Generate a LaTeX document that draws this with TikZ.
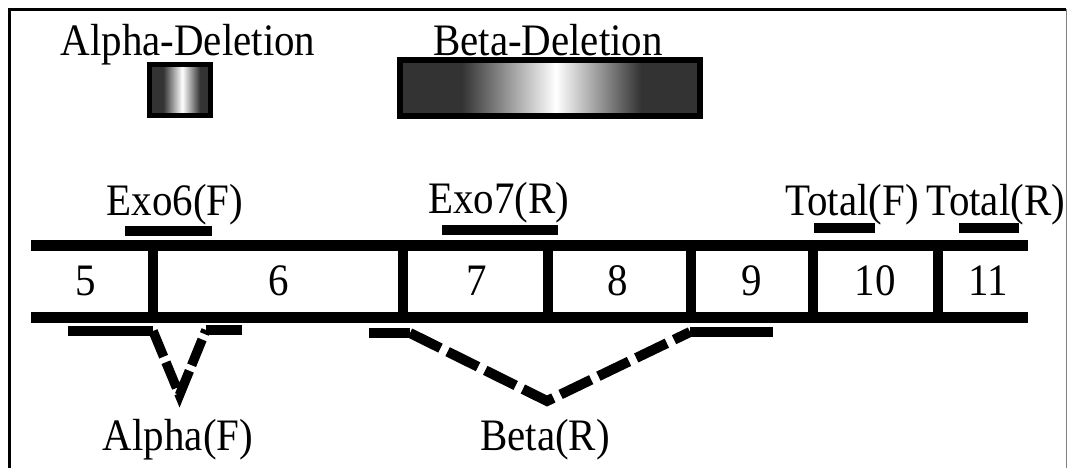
\documentclass[tikz,border=0pt]{standalone}
\usepackage{graphicx}
\usepackage{fontspec}
\setmainfont{Liberation Serif}
\definecolor{dg}{gray}{0.2}
\newcommand{\narrowtxt}[1]{\scalebox{0.91}[1]{#1}}
\pgfdeclarehorizontalshading{alphashade}{100bp}{color(0bp)=(dg); color(35bp)=(dg); color(52bp)=(white); color(68bp)=(dg); color(100bp)=(dg)}
\pgfdeclarehorizontalshading{betashade}{100bp}{color(0bp)=(dg); color(35bp)=(dg); color(51bp)=(white); color(65.5bp)=(dg); color(100bp)=(dg)}
\tikzset{
  lbl/.style={anchor=base, inner sep=0pt, font=\fontsize{45}{50}\selectfont},
  rail/.style={line width=11pt},
  wall/.style={line width=10pt},
  primer/.style={line width=10pt},
  alphadash/.style={line width=9.5pt, dash pattern=on 27.8pt off 6pt, miter limit=10},
  betadash/.style={line width=10pt, dash pattern=on 34pt off 8pt, miter limit=10},
}
\begin{document}
\begin{tikzpicture}[x=1pt,y=-1pt]
\useasboundingbox (0,0) rectangle (1068,468);
% frame
\draw[line width=3pt] (9.5,468) -- (9.5,9.5) -- (1066,9.5);
\draw[gray, line width=1.5pt] (1066.5,9.5) -- (1066.5,468);
% deletion boxes
\node[lbl] (adel) at (188,56) {\narrowtxt{Alpha-Deletion}};
\node[lbl] (bdel) at (548,56) {\narrowtxt{Beta-Deletion}};
\shade[shading=alphashade] (152,67) rectangle (208,113);
\draw[line width=5pt] (149.5,64.5) rectangle (210.5,115.5);
\shade[shading=betashade] (403,63) rectangle (697,113);
\draw[line width=6pt] (400,60) rectangle (700,116);
% gene rails
\draw[rail] (31,245.5) -- (1028,245.5);
\draw[rail] (31,317.5) -- (1028,317.5);
\foreach \x in {153,403,548,691,813,938}
  \draw[wall] (\x,245.5) -- (\x,317.5);
% exon numbers
\node[lbl] (e5) at (86,295) {\narrowtxt{5}};
\node[lbl] (e6) at (279,295) {\narrowtxt{6}};
\node[lbl] (e7) at (477,295) {\narrowtxt{7}};
\node[lbl] (e8) at (618,295) {\narrowtxt{8}};
\node[lbl] (e9) at (752,295) {\narrowtxt{9}};
\node[lbl] (e10) at (875,295) {\narrowtxt{10}};
\node[lbl] (e11) at (988,295) {\narrowtxt{11}};
% top primers
\node[lbl] (p6) at (175,215) {\narrowtxt{Exo6(F)}};
\node[lbl] (p7) at (499,213) {\narrowtxt{Exo7(R)}};
\node[lbl] (tf) at (852,215) {\narrowtxt{Total(F)}};
\node[lbl] (tr) at (996,215) {\narrowtxt{Total(R)}};
\draw[primer] (125,231) -- (212,231);
\draw[primer] (442,230) -- (558,230);
\draw[primer] (814,228) -- (875,228);
\draw[primer] (959,228) -- (1019,228);
% alpha primer
\coordinate (a1) at (68,331);
\coordinate (a2) at (153,331);
\coordinate (av) at (179.5,395);
\coordinate (a3) at (206,330);
\coordinate (a4) at (242,330);
\draw[primer] (a1) -- (a2);
\draw[primer] (a3) -- (a4);
\draw[alphadash] (a2) -- (av) -- (a3);
\node[lbl] (af) at (178,450) {\narrowtxt{Alpha(F)}};
% beta primer
\coordinate (b1) at (369,333);
\coordinate (b2) at (410,333);
\coordinate (bv) at (547,401);
\coordinate (b3) at (690,332);
\coordinate (b4) at (773,332);
\draw[primer] (b1) -- (b2);
\draw[primer] (b3) -- (b4);
\draw[betadash] (b2) -- (bv) -- (b3);
\node[lbl] (br) at (545,450) {\narrowtxt{Beta(R)}};
\end{tikzpicture}
\end{document}
